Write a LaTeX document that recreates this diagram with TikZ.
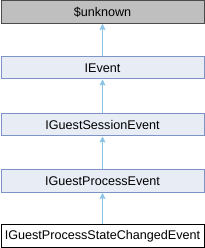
\documentclass[tikz,border=0pt]{standalone}
\usepackage{fontspec}
\setmainfont{Liberation Sans}
\usetikzlibrary{arrows.meta}
\definecolor{boxfill}{HTML}{E8ECF5}
\definecolor{boxdraw}{HTML}{7C95C6}
\definecolor{arrowc}{HTML}{8CC4E8}
\begin{document}
\begin{tikzpicture}[x=1pt,y=1pt,
  cls/.style={draw=boxdraw,fill=boxfill,line width=1pt,minimum width=203pt,minimum height=22.5pt,inner sep=0pt,font=\fontsize{12.6}{14}\selectfont,anchor=north west},
  topcls/.style={cls,draw=black!70,fill=black!25},
  leafcls/.style={cls,draw=black,fill=white},
  inh/.style={draw=arrowc,line width=1pt,-{Stealth[length=6pt,width=6pt,inset=1pt]}}]
\useasboundingbox (0,0) rectangle (204,248);
\node[topcls] (u) at (0.5,247.5) {\$unknown};
\node[cls] (e) at (0.5,192) {IEvent};
\node[cls] (s) at (0.5,135) {IGuestSessionEvent};
\node[cls] (p) at (0.5,78.5) {IGuestProcessEvent};
\node[leafcls,minimum height=23pt] (c) at (0.5,23.5) {IGuestProcessStateChangedEvent};
\draw[inh] (e.north) -- (u.south);
\draw[inh] (s.north) -- (e.south);
\draw[inh] (p.north) -- (s.south);
\draw[inh] (c.north) -- (p.south);
\end{tikzpicture}
\end{document}
